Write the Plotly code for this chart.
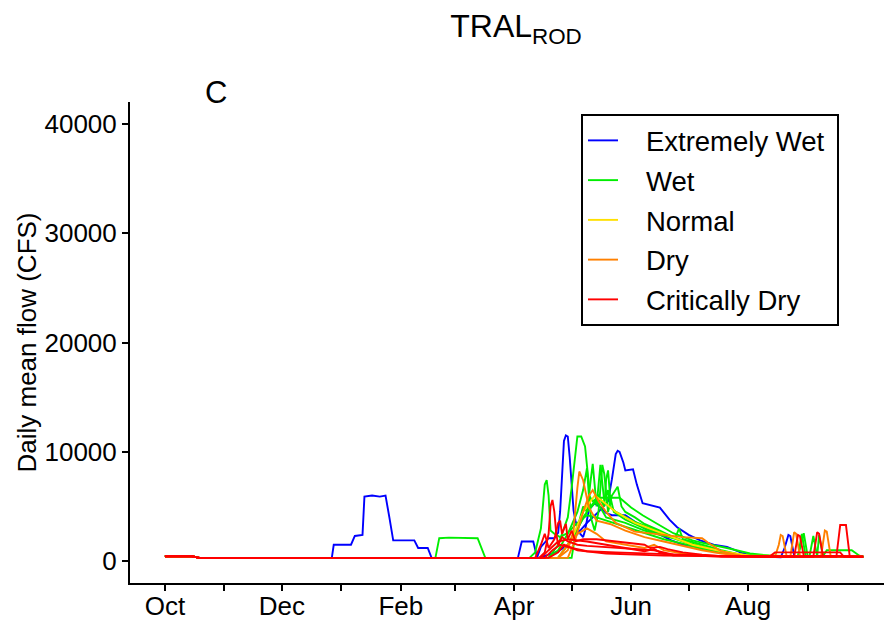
import plotly.graph_objects as go

# ---- tick labels / categories ----
major_tick_day = [0, 61, 123, 182, 243, 304]
major_tick_label = ["Oct", "Dec", "Feb", "Apr", "Jun", "Aug"]
minor_tick_day = [31, 92, 151, 212, 273, 335]
y_ticks = [0, 10000, 20000, 30000, 40000]
categories = ["Extremely Wet", "Wet", "Normal", "Dry", "Critically Dry"]
cat_colors = ["#0000FF", "#00EE00", "#FFE000", "#FF8000", "#FF0000"]

# ---- series: day of water year (0 = Oct 1) and daily mean flow (CFS) ----
ew1_day = [0, 14, 18, 87, 88, 97, 99, 103, 104, 108, 112, 115, 117, 119, 130, 132, 137, 139,
           184, 186, 192, 194, 196, 198, 200, 203, 205, 206, 207, 208, 209, 210, 211, 212, 213,
           214, 216, 218, 219, 221, 224, 227, 230, 233, 240, 245, 250, 256, 264, 270, 283, 287,
           292, 300, 310, 364]
ew1_cfs = [450, 450, 300, 300, 1500, 1500, 2300, 2400, 5900, 6000, 5900, 6000, 4000, 1900, 1900, 1200, 1200, 300,
           300, 1800, 1800, 350, 1300, 1700, 2100, 2100, 2600, 4500, 8000, 11000, 11500, 11400, 9500, 7000, 4650,
           3700, 2600, 2200, 2800, 4700, 5300, 4900, 4400, 4200, 4200, 3600, 3000, 2600, 1900, 1500, 1200, 1100,
           730, 500, 400, 400]

ew2_day = [0, 14, 18, 195, 200, 205, 210, 215, 220, 226, 231, 233, 235, 236, 237, 239, 240, 244,
           246, 249, 255, 258, 263, 267, 273, 279, 286, 293, 301, 306, 315, 321, 323, 325, 326, 328, 332, 364]
ew2_cfs = [450, 450, 300, 300, 600, 900, 1500, 2500, 3500, 4500, 5500, 7500, 9800, 10100, 10000, 9000, 8300, 8400,
           7000, 5300, 5000, 4900, 3800, 3100, 2400, 1900, 1500, 1300, 730, 500, 400, 350, 1200, 2400, 2300, 500, 400, 400]

wet1_day = [0, 14, 18, 141, 143, 148, 163, 167, 190, 193, 196, 198, 199, 200, 201, 203, 206, 210,
            215, 220, 225, 232, 240, 250, 260, 270, 280, 290, 300, 310, 330, 333, 335, 364]
wet1_cfs = [450, 450, 300, 300, 2100, 2150, 2100, 300, 300, 800, 3000, 7000, 7400, 6000, 2800, 2500, 2200, 2600,
            3500, 4200, 4000, 3600, 3100, 2600, 2000, 1600, 1100, 800, 600, 500, 450, 2550, 500, 400]

wet2_day = [0, 14, 18, 200, 205, 208, 210, 212, 214, 215, 217, 219, 221, 222, 224, 226, 228, 229,
            231, 233, 236, 238, 240, 245, 250, 258, 265, 275, 285, 295, 305, 336, 338, 340, 364]
wet2_cfs = [450, 450, 300, 300, 1500, 3000, 4000, 6700, 10000, 11400, 11400, 10500, 7000, 4000, 2800, 4500, 8800, 8000,
            4500, 6000, 6800, 5000, 4500, 4000, 3400, 2800, 2200, 1500, 1000, 700, 500, 450, 2300, 450, 400]

wet3_day = [0, 14, 18, 205, 210, 215, 218, 220, 222, 223, 224, 225, 227, 228, 229, 231, 232, 235,
            245, 255, 265, 275, 285, 295, 305, 330, 332, 334, 364]
wet3_cfs = [450, 450, 300, 300, 1500, 3000, 5000, 4500, 7500, 8900, 7000, 5000, 8800, 7000, 5500, 6500, 5000, 4500,
            3600, 2900, 2200, 1600, 1100, 700, 500, 450, 2500, 450, 400]

wet4_day = [0, 14, 18, 200, 205, 210, 215, 218, 220, 221, 223, 226, 237, 243, 249, 254, 265, 275,
            282, 293, 305, 315, 364]
wet4_cfs = [450, 450, 300, 300, 1000, 2500, 4500, 6500, 8500, 6000, 5500, 5800, 5800, 4900, 4200, 3700, 2550, 1900,
            1600, 1200, 700, 500, 400]

wet5_day = [0, 14, 18, 205, 210, 215, 220, 225, 230, 240, 250, 260, 266, 268, 270, 280, 290, 300,
            310, 335, 340, 341, 343, 345, 358, 362, 364]
wet5_cfs = [450, 450, 300, 300, 1500, 3000, 4500, 5500, 4000, 3500, 2800, 2300, 2100, 3000, 2000, 1500, 1000, 600,
            450, 450, 450, 2400, 450, 1000, 1000, 500, 400]

wet6_day = [0, 14, 18, 212, 214, 218, 222, 226, 229, 230, 231, 232, 234, 240, 250, 260, 270, 280,
            290, 300, 310, 364]
wet6_cfs = [450, 450, 300, 300, 2500, 4000, 5000, 6000, 5000, 7500, 8300, 6000, 4500, 3800, 3000, 2400, 1800, 1200,
            900, 600, 450, 400]

normal1_day = [0, 14, 18, 205, 212, 218, 224, 228, 235, 245, 260, 275, 290, 305, 364]
normal1_cfs = [450, 450, 300, 300, 2000, 4500, 6000, 5500, 4500, 3500, 2500, 1500, 900, 500, 400]

dry1_day = [0, 14, 18, 205, 210, 213, 215, 216, 218, 219, 221, 225, 232, 240, 250, 260, 270, 280,
            290, 300, 318, 320, 321, 322, 324, 364]
dry1_cfs = [450, 450, 300, 300, 1000, 2800, 6700, 8200, 7400, 6500, 4900, 3700, 3400, 2800, 2200, 1800, 1400, 1000,
            700, 500, 400, 1500, 2400, 2300, 500, 400]

dry2_day = [0, 14, 18, 210, 214, 218, 221, 223, 226, 230, 235, 245, 260, 270, 280, 283, 290, 300,
            326, 327, 328, 329, 331, 364]
dry2_cfs = [450, 450, 300, 300, 2000, 4500, 6000, 6500, 5500, 4500, 3500, 2700, 2400, 2200, 2100, 1700, 900, 500,
            400, 1500, 2650, 2500, 500, 400]

dry3_day = [0, 14, 18, 205, 210, 215, 220, 225, 230, 240, 250, 255, 260, 270, 280, 342, 343, 344,
            345, 347, 364]
dry3_cfs = [450, 450, 300, 300, 1500, 2500, 3000, 2500, 1800, 1500, 1200, 1500, 1000, 700, 500, 400, 1500, 2800,
            2700, 500, 400]

cdry1_day = [0, 14, 18, 195, 198, 200, 201, 202, 203, 204, 205, 207, 210, 215, 220, 230, 240, 250,
             255, 265, 290, 328, 329, 330, 331, 333, 364]
cdry1_cfs = [450, 450, 300, 300, 800, 2500, 5000, 5600, 4500, 2500, 1500, 2200, 1800, 1500, 1400, 1300, 1200, 1100,
             1000, 600, 400, 400, 1500, 2400, 2300, 500, 400]

cdry2_day = [0, 14, 18, 193, 196, 198, 200, 203, 205, 206, 207, 209, 210, 212, 214, 218, 225, 235,
             245, 250, 253, 258, 262, 270, 280, 290, 338, 339, 340, 341, 343, 364]
cdry2_cfs = [450, 450, 300, 300, 1500, 2500, 1200, 2000, 3500, 3700, 2500, 3400, 2000, 2800, 1800, 2000, 2000, 1800,
             1600, 1500, 1200, 1300, 1100, 800, 600, 450, 400, 1500, 2650, 2500, 500, 400]

cdry3_day = [0, 14, 18, 196, 200, 205, 210, 220, 230, 240, 250, 255, 258, 265, 350, 352, 355, 357, 364]
cdry3_cfs = [450, 450, 300, 300, 1000, 1800, 2000, 1800, 1500, 1200, 900, 1100, 800, 500, 400, 3300, 3300, 400, 400]

cdry4_day = [0, 14, 18, 198, 202, 206, 212, 220, 235, 250, 265, 280, 300, 315, 318, 352, 354, 364]
cdry4_cfs = [450, 450, 300, 300, 1000, 1500, 1200, 900, 800, 700, 600, 500, 400, 400, 800, 800, 400, 400]

cdry5_day = [0, 14, 18, 200, 205, 208, 215, 230, 260, 364]
cdry5_cfs = [450, 450, 300, 300, 800, 1500, 1000, 700, 500, 400]

series = [
    ("Extremely Wet", ew1_day, ew1_cfs), ("Extremely Wet", ew2_day, ew2_cfs),
    ("Wet", wet1_day, wet1_cfs), ("Wet", wet2_day, wet2_cfs), ("Wet", wet3_day, wet3_cfs),
    ("Wet", wet4_day, wet4_cfs), ("Wet", wet5_day, wet5_cfs), ("Wet", wet6_day, wet6_cfs),
    ("Normal", normal1_day, normal1_cfs),
    ("Dry", dry1_day, dry1_cfs), ("Dry", dry2_day, dry2_cfs), ("Dry", dry3_day, dry3_cfs),
    ("Critically Dry", cdry1_day, cdry1_cfs), ("Critically Dry", cdry2_day, cdry2_cfs),
    ("Critically Dry", cdry3_day, cdry3_cfs), ("Critically Dry", cdry4_day, cdry4_cfs),
    ("Critically Dry", cdry5_day, cdry5_cfs),
]

FONT = "Liberation Sans, Arial, sans-serif"
NB = "\u00a0"
fig = go.Figure()
shown = set()
for cat, d, v in series:
    col = cat_colors[categories.index(cat)]
    label = NB * 3 + cat + (NB if cat == "Extremely Wet" else "")
    fig.add_trace(go.Scatter(
        x=d, y=v, mode="lines", name=label, legendgroup=cat,
        showlegend=cat not in shown,
        line=dict(color=col, width=1.9),
    ))
    shown.add(cat)

# page body has an 8px default margin, so the figure is placed at (8, 8)
OFF = 8
W, H = 892 - OFF, 621 - OFF
L, T = 130 - OFF, 102 - OFF
ph = 481
B = H - T - ph
R = 0
pw = W - L - R

fig.update_layout(
    width=W, height=H,
    margin=dict(l=L, r=R, t=T, b=B, autoexpand=False),
    paper_bgcolor="white", plot_bgcolor="white",
    font=dict(family=FONT, color="black"),
    title=dict(text="TRAL<sub>ROD</sub>", x=(516 - OFF) / W, xanchor="center",
               y=1 - 18 / H, yanchor="middle", yref="container",
               font=dict(size=32, family=FONT, color="black")),
    showlegend=True,
    legend=dict(x=(581 - 130) / pw, y=(583 - 114) / ph, xanchor="left", yanchor="top",
                bordercolor="black", borderwidth=2, bgcolor="white",
                font=dict(size=27.5, family=FONT, color="black"),
                tracegroupgap=1, traceorder="grouped"),
    annotations=[dict(text="C", xref="paper", yref="paper",
                      x=(216 - 130) / pw, y=(583 - 92) / ph,
                      xanchor="center", yanchor="middle", showarrow=False,
                      font=dict(size=31, family=FONT, color="black"))],
)

fig.update_xaxes(
    range=[-18.2, 379], tickmode="array", tickvals=major_tick_day, ticktext=major_tick_label,
    showgrid=False, zeroline=False, showline=True, linecolor="black", linewidth=2,
    ticks="outside", ticklen=6, tickwidth=1.8, tickcolor="black",
    minor=dict(tickmode="array", tickvals=minor_tick_day, ticks="outside", ticklen=6,
               tickwidth=1.8, tickcolor="black", showgrid=False),
    tickfont=dict(size=26, family=FONT, color="black"), automargin=False,
    ticklabelstandoff=-7,
)
fig.update_yaxes(
    range=[-2000, 42000], tickmode="array", tickvals=y_ticks,
    ticktext=[str(t) for t in y_ticks],
    showgrid=False, zeroline=False, showline=True, linecolor="black", linewidth=2,
    ticks="outside", ticklen=6, tickwidth=1.8, tickcolor="black",
    tickfont=dict(size=26, family=FONT, color="black"), automargin=False,
    title=dict(text="Daily mean flow (CFS)", standoff=0,
               font=dict(size=26, family=FONT, color="black")),
)

fig.write_html("out.html")
